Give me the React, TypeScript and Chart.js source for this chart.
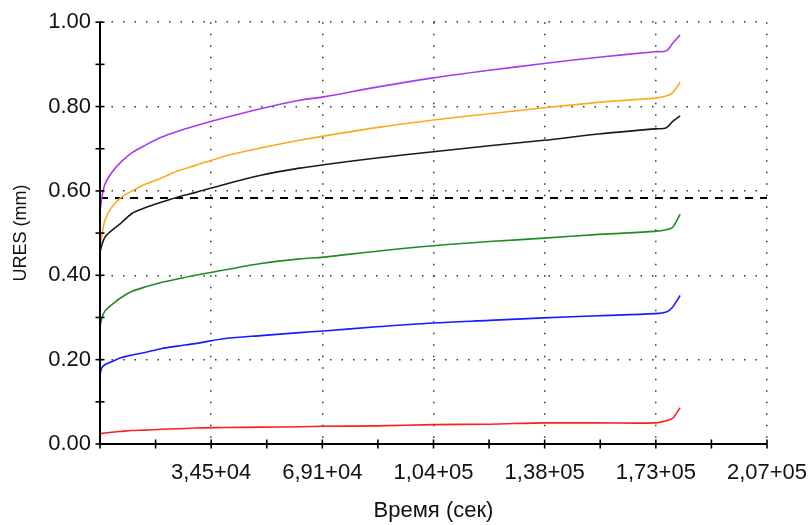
import React, { useEffect, useRef } from "react";
import { Chart, registerables } from "chart.js";

Chart.register(...registerables);

// ---- data ----
const timeSec = [0, 500, 1500, 3600, 6700, 10000, 14000, 19000, 24000, 29500, 39000, 50000, 62000, 69500, 86000, 103600, 121000, 138000, 155000, 172500, 176000, 178000, 180300];
const uresPurple = [0.550, 0.580, 0.615, 0.643, 0.670, 0.691, 0.708, 0.727, 0.741, 0.754, 0.774, 0.795, 0.815, 0.823, 0.846, 0.868, 0.886, 0.902, 0.917, 0.930, 0.932, 0.950, 0.970];
const uresOrange = [0.470, 0.490, 0.530, 0.561, 0.585, 0.600, 0.616, 0.630, 0.647, 0.660, 0.683, 0.702, 0.720, 0.730, 0.750, 0.768, 0.783, 0.797, 0.810, 0.820, 0.825, 0.833, 0.857];
const uresBlack = [0.455, 0.470, 0.490, 0.506, 0.525, 0.547, 0.560, 0.573, 0.585, 0.596, 0.616, 0.637, 0.654, 0.662, 0.678, 0.693, 0.707, 0.720, 0.735, 0.747, 0.750, 0.765, 0.778];
const uresGreen = [0.277, 0.297, 0.315, 0.330, 0.348, 0.362, 0.372, 0.383, 0.391, 0.400, 0.413, 0.428, 0.439, 0.443, 0.457, 0.470, 0.480, 0.488, 0.497, 0.504, 0.508, 0.514, 0.545];
const uresBlue = [0.163, 0.180, 0.188, 0.195, 0.205, 0.211, 0.217, 0.226, 0.232, 0.238, 0.250, 0.257, 0.264, 0.268, 0.278, 0.287, 0.293, 0.299, 0.304, 0.309, 0.313, 0.325, 0.352];
const uresRed = [0.021, 0.025, 0.026, 0.028, 0.030, 0.032, 0.033, 0.035, 0.036, 0.038, 0.039, 0.040, 0.041, 0.042, 0.043, 0.046, 0.047, 0.050, 0.050, 0.050, 0.055, 0.061, 0.086];

const limitX = [0, 207300];
const limitY = [0.583, 0.583];

const xMax = 207300;
const xStep = 34550;
const xTickLabels = ["", "3,45+04", "6,91+04", "1,04+05", "1,38+05", "1,73+05", "2,07+05"];
const yTickLabels = ["0.00", "0.20", "0.40", "0.60", "0.80", "1.00"];

const FONT = "'Liberation Sans', Arial, sans-serif";

const toPoints = (xs: number[], ys: number[]) => xs.map((x, i) => ({ x, y: ys[i] }));

const axisPlugin = {
  id: "axisTicks",
  afterDraw(chart: any) {
    const { ctx, chartArea, scales } = chart;
    const xs = scales.x;
    const ys = scales.y;
    ctx.save();
    ctx.strokeStyle = "#000";
    ctx.lineWidth = 2;
    ctx.setLineDash([]);
    ctx.beginPath();
    ctx.moveTo(chartArea.left, chartArea.top);
    ctx.lineTo(chartArea.left, chartArea.bottom);
    ctx.lineTo(chartArea.right, chartArea.bottom);
    ctx.stroke();
    ctx.lineWidth = 1.6;
    const half = 4.5;
    const xt = xs.ticks.map((t: any) => t.value);
    const xv: number[] = [];
    xt.forEach((v: number, i: number) => {
      xv.push(v);
      if (i < xt.length - 1) xv.push((v + xt[i + 1]) / 2);
    });
    xv.forEach((v) => {
      const px = xs.getPixelForValue(v);
      ctx.beginPath();
      ctx.moveTo(px, chartArea.bottom - half);
      ctx.lineTo(px, chartArea.bottom + half);
      ctx.stroke();
    });
    const yt = ys.ticks.map((t: any) => t.value);
    const yv: number[] = [];
    yt.forEach((v: number, i: number) => {
      yv.push(v);
      if (i < yt.length - 1) yv.push((v + yt[i + 1]) / 2);
    });
    yv.forEach((v) => {
      const py = ys.getPixelForValue(v);
      ctx.beginPath();
      ctx.moveTo(chartArea.left - half, py);
      ctx.lineTo(chartArea.left + half, py);
      ctx.stroke();
    });
    ctx.restore();
  },
};

export default function App() {
  const ref = useRef<HTMLCanvasElement | null>(null);
  useEffect(() => {
    if (!ref.current) return;
    const line = (data: number[], color: string) => ({
      data: toPoints(timeSec, data),
      borderColor: color,
      borderWidth: 1.6,
      pointRadius: 0,
      tension: 0.3,
      fill: false,
    });
    const chart = new Chart(ref.current, {
      type: "line",
      data: {
        datasets: [
          line(uresRed, "#ff1e1e"),
          line(uresBlue, "#1a1aff"),
          line(uresGreen, "#238b23"),
          line(uresBlack, "#1a1a1a"),
          line(uresOrange, "#ffaa1e"),
          line(uresPurple, "#a53cf0"),
          {
            data: toPoints(limitX, limitY),
            borderColor: "#000",
            borderWidth: 2,
            borderDash: [8, 7],
            pointRadius: 0,
            fill: false,
          },
        ],
      },
      options: {
        animation: false,
        responsive: true,
        maintainAspectRatio: false,
        layout: { padding: { left: 0, right: 45, top: 21, bottom: 0 } },
        plugins: { legend: { display: false }, tooltip: { enabled: false } },
        scales: {
          x: {
            type: "linear",
            min: 0,
            max: xMax,
            afterFit: (s: any) => {
              s.height = 81;
              s.paddingRight = 0;
              s.paddingLeft = 0;
            },
            ticks: {
              stepSize: xStep,
              autoSkip: false,
              maxRotation: 0,
              padding: 16,
              color: "#111",
              font: { family: FONT, size: 22 },
              callback: (_v: any, i: number) => xTickLabels[i] ?? "",
            },
            grid: { color: "#333", lineWidth: 1.5, drawTicks: false },
            border: { display: false, dash: [1.5, 10] },
            title: {
              display: true,
              text: "Время (сек)",
              color: "#111",
              font: { family: FONT, size: 22 },
              padding: { top: 0, bottom: 1 },
            },
          },
          y: {
            type: "linear",
            min: 0,
            max: 1,
            afterFit: (s: any) => {
              s.width = 100;
            },
            ticks: {
              stepSize: 0.2,
              autoSkip: false,
              padding: 9,
              color: "#111",
              font: { family: FONT, size: 22 },
              callback: (_v: any, i: number) => yTickLabels[i] ?? "",
            },
            grid: { color: "#333", lineWidth: 1.5, drawTicks: false },
            border: { display: false, dash: [1.5, 10] },
            title: {
              display: true,
              text: "URES (mm)",
              color: "#111",
              font: { family: FONT, size: 18 },
              padding: { top: 10, bottom: 0 },
            },
          },
        },
      },
      plugins: [axisPlugin],
    });
    return () => chart.destroy();
  }, []);
  return (
    <div style={{ position: "absolute", left: 0, top: 0, width: 812, height: 525, background: "#fff" }}>
      <canvas ref={ref} />
    </div>
  );
}
